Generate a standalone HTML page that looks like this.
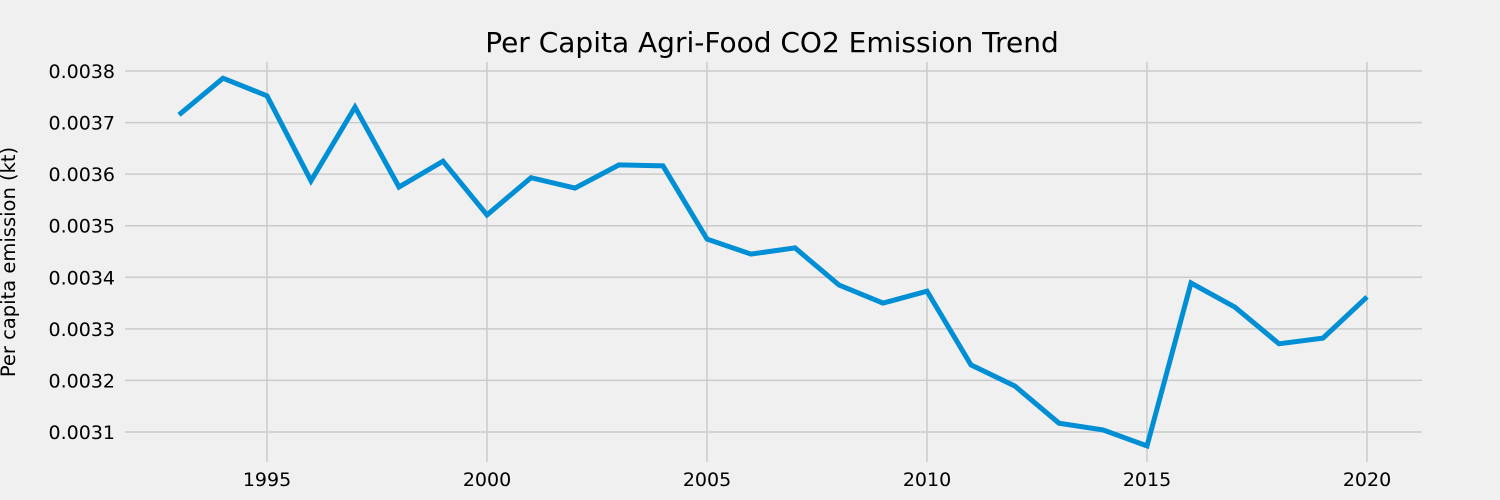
<!DOCTYPE html>
<html><head><meta charset="utf-8"><style>
html,body{margin:0;padding:0;background:#f0f0f0;overflow:hidden;width:1500px;height:500px;}
svg{display:block;}
svg text{font-family:"DejaVu Sans","Liberation Sans",sans-serif;fill:#000;}
</style></head><body>
<svg id="chart" width="1500" height="500" xmlns="http://www.w3.org/2000/svg">
<rect width="1500" height="500" fill="#f0f0f0"/>
<text x="772" y="52" font-size="28" text-anchor="middle">Per Capita Agri-Food CO2 Emission Trend</text>
<text transform="translate(15,262) rotate(-90)" font-size="19.5" text-anchor="middle">Per capita emission (kt)</text>
<g id="grid"></g><g id="ticks"></g><g id="series"></g>
</svg>
<script>
const years = [1993,1994,1995,1996,1997,1998,1999,2000,2001,2002,2003,2004,2005,2006,2007,2008,2009,2010,2011,2012,2013,2014,2015,2016,2017,2018,2019,2020];
const emissions = [0.003715,0.003786,0.003752,0.003587,0.00373,0.003575,0.003625,0.003521,0.003593,0.003573,0.003618,0.003616,0.003474,0.003445,0.003457,0.003385,0.00335,0.003373,0.00323,0.003189,0.003117,0.003104,0.003073,0.003389,0.003342,0.003271,0.003282,0.003362];
const xTicks = [1995,2000,2005,2010,2015,2020];
const yTicks = [0.0031,0.0032,0.0033,0.0034,0.0035,0.0036,0.0037,0.0038];

const NS='http://www.w3.org/2000/svg';
const X0=120, X1=1422, Y0=62, Y1=462;
function xs(v){return 487+(v-2000)*44;}
function ys(v){return 71+(0.0038-v)/0.0001*51.57;}
function mk(tag,attrs,parent){const e=document.createElementNS(NS,tag);for(const k in attrs)e.setAttribute(k,attrs[k]);parent.appendChild(e);return e;}
const grid=document.getElementById('grid'), ticks=document.getElementById('ticks'), series=document.getElementById('series');
xTicks.forEach(t=>{
  const l=mk('line',{x1:xs(t),x2:xs(t),y1:Y0,y2:Y1,stroke:'#cbcbcb','stroke-width':1.5},grid);
  
  
  const tx=mk('text',{x:xs(t),y:486,'font-size':19,'text-anchor':'middle'},ticks);
  tx.textContent=t;
  
  
});
yTicks.forEach(t=>{
  const l=mk('line',{x1:X0+5,x2:X1,y1:ys(t),y2:ys(t),stroke:'#cbcbcb','stroke-width':1.5},grid);
  
  
  const tx=mk('text',{x:115,y:ys(t)+7,'font-size':19,'text-anchor':'end'},ticks);
  tx.textContent=t.toFixed(4);
  
  
});
const pts=years.map((y,i)=>xs(y).toFixed(1)+','+ys(emissions[i]).toFixed(1)).join(' ');
const line=mk('polyline',{points:pts,fill:'none',stroke:'#008fd5','stroke-width':5,'stroke-linejoin':'miter'},series);


</script>
</body></html>
